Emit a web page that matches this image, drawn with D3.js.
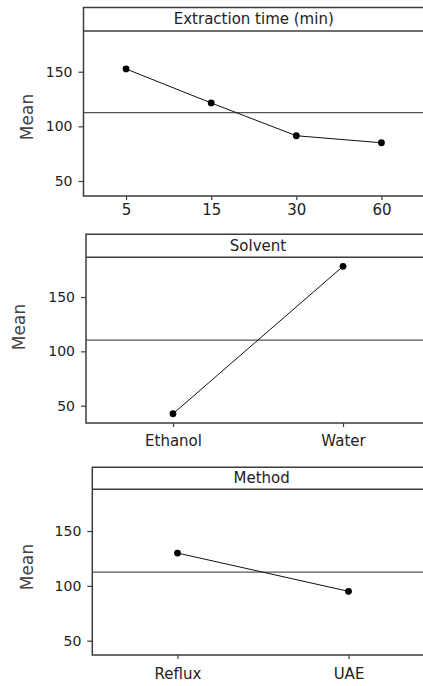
<!DOCTYPE html>
<html>
<head>
<meta charset="utf-8">
<script src="https://cdn.jsdelivr.net/npm/d3@7"></script>
<style>
  body { margin: 0; background: #fff; overflow: hidden; }
  svg { display: block; }
  text { font-family: "DejaVu Sans", Verdana, sans-serif; fill: #222; }
</style>
</head>
<body>
<div id="chart"></div>
<script>
// ---- data ----
var timeLevels = ["5", "15", "30", "60"];
var timeMeans = [152.5, 121.4, 91.4, 85.0];

var solventLevels = ["Ethanol", "Water"];
var solventMeans = [42.6, 178.2];

var methodLevels = ["Reflux", "UAE"];
var methodMeans = [129.9, 95.0];

var panelTitles = ["Extraction time (min)", "Solvent", "Method"];
var yTickValues = [50, 100, 150];

// ---- layout for each stacked panel (pixel positions only) ----
var svgWidth = 423;
var svgHeight = 686;

var panels = [
  { title: panelTitles[0], levels: timeLevels, means: timeMeans,
    left: 83.5, right: 424, top: 7.5, stripBottom: 31, bottom: 196,
    y150: 71.7, y50: 181, xRange: [83.5, 424], labelGap: 8, meanX: 27, meanY: 117 },
  { title: panelTitles[1], levels: solventLevels, means: solventMeans,
    left: 86, right: 430, top: 234.3, stripBottom: 257.3, bottom: 423,
    y150: 297, y50: 405.7, xRange: [88, 428], labelGap: 12, meanX: 19, meanY: 327 },
  { title: panelTitles[2], levels: methodLevels, means: methodMeans,
    left: 92.3, right: 431, top: 467.3, stripBottom: 489.3, bottom: 655,
    y150: 531, y50: 640.7, xRange: [92, 434], labelGap: 13, meanX: 27, meanY: 567 }
];

var frameColor = "#3c3c3c";
var edge = svgWidth; // panels run off the right side of the picture

var svg = d3.select("#chart").append("svg")
  .attr("width", svgWidth)
  .attr("height", svgHeight);

panels.forEach(function(p) {
  var g = svg.append("g");

  // y scale pinned to where the 50 and 150 ticks sit
  var yScale = d3.scaleLinear()
    .domain([50, 150])
    .range([p.y50, p.y150]);

  var xScale = d3.scalePoint()
    .domain(p.levels)
    .range(p.xRange)
    .padding(0.5);

  // grand mean reference line
  var grand = d3.mean(p.means);
  g.append("line")
    .attr("x1", p.left).attr("x2", edge)
    .attr("y1", yScale(grand)).attr("y2", yScale(grand))
    .attr("stroke", "#555")
    .attr("stroke-width", 1.2);

  // y axis
  var yAxis = g.append("g")
    .attr("transform", `translate(${p.left},0)`)
    .call(d3.axisLeft(yScale).tickValues(yTickValues).tickSize(5).tickPadding(6));
  yAxis.select(".domain").remove();
  yAxis.selectAll(".tick line").attr("stroke", frameColor).attr("stroke-width", 1.2);
  yAxis.selectAll(".tick text")
    .attr("font-size", "14px")
    .attr("font-family", "DejaVu Sans")
    .attr("fill", "#222");

  // x axis
  var xAxis = g.append("g")
    .attr("transform", `translate(0,${p.bottom})`)
    .call(d3.axisBottom(xScale).tickSize(4).tickPadding(p.labelGap - 4));
  xAxis.select(".domain").remove();
  xAxis.selectAll(".tick line").attr("stroke", frameColor).attr("stroke-width", 1.2);
  xAxis.selectAll(".tick text")
    .attr("font-size", "15px")
    .attr("font-family", "DejaVu Sans")
    .attr("fill", "#222");

  // frame: left edge, top edge, strip bottom, bottom edge
  g.append("path")
    .attr("d", `M${edge},${p.top}H${p.left}V${p.bottom}H${edge}`)
    .attr("fill", "none")
    .attr("stroke", frameColor)
    .attr("stroke-width", 1.5);
  g.append("line")
    .attr("x1", p.left).attr("x2", edge)
    .attr("y1", p.stripBottom).attr("y2", p.stripBottom)
    .attr("stroke", frameColor)
    .attr("stroke-width", 1.5);

  // strip title
  g.append("text")
    .attr("x", (p.left + p.right) / 2)
    .attr("y", (p.top + p.stripBottom) / 2)
    .attr("text-anchor", "middle")
    .attr("dominant-baseline", "central")
    .attr("font-size", "15px")
    .text(p.title);

  // y axis label
  g.append("text")
    .attr("transform", `translate(${p.meanX},${p.meanY}) rotate(-90)`)
    .attr("text-anchor", "middle")
    .attr("dominant-baseline", "central")
    .attr("font-size", "17px")
    .style("fill", "#444")
    .text("Mean");

  // means line and points
  var rows = p.levels.map(function(l, i) { return { level: l, mean: p.means[i] }; });

  var line = d3.line()
    .x(d => xScale(d.level))
    .y(d => yScale(d.mean));

  g.append("path")
    .datum(rows)
    .attr("d", line)
    .attr("fill", "none")
    .attr("stroke", "#111")
    .attr("stroke-width", 1);

  g.selectAll("circle")
    .data(rows)
    .enter()
    .append("circle")
    .attr("cx", d => xScale(d.level))
    .attr("cy", d => yScale(d.mean))
    .attr("r", 3.4)
    .attr("fill", "#000");
});
</script>
</body>
</html>
